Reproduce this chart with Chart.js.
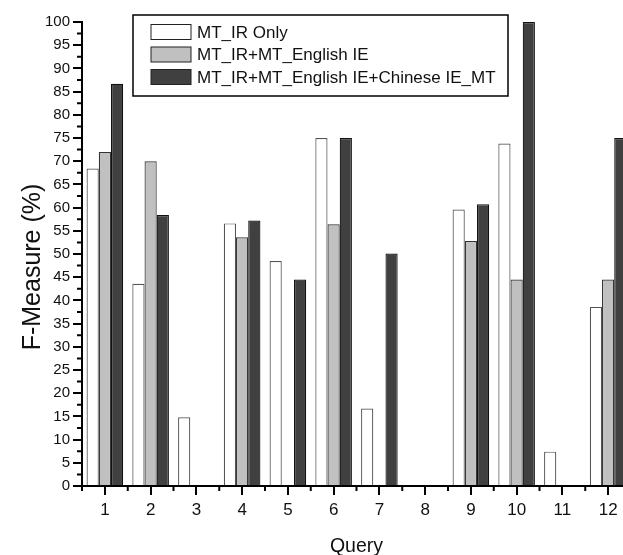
<!DOCTYPE html>
<html>
<head>
<meta charset="utf-8">
<script src="https://cdn.jsdelivr.net/npm/chart.js@4.4.1/dist/chart.umd.min.js"></script>
<style>
  html, body { margin: 0; padding: 0; background: #fff; overflow: hidden; }
  #wrap { width: 631px; height: 555px; }
</style>
</head>
<body>
<div id="wrap"><canvas id="grafico" width="631" height="555"></canvas></div>
<script>
var queries = ["1", "2", "3", "4", "5", "6", "7", "8", "9", "10", "11", "12"];
var serieNomes = ["MT_IR Only", "MT_IR+MT_English IE", "MT_IR+MT_English IE+Chinese IE_MT"];
var mtIrOnly = [68.4, 43.6, 14.8, 56.6, 48.5, 75.0, 16.7, 0, 59.6, 73.8, 7.4, 38.6];
var mtIrEnglish = [72.0, 70.0, 0, 53.6, 0, 56.4, 0, 0, 52.8, 44.5, 0, 44.5];
var mtIrEnglishChinese = [86.7, 58.4, 0, 57.2, 44.5, 75.0, 50.1, 0, 60.7, 100, 0, 75.0];
var tituloX = "Query";
var tituloY = "F-Measure (%)";
var fonte = "'Liberation Sans', Arial, sans-serif";

// ticks menores, titulos dos eixos e legenda em caixa
var extras = {
  id: 'extras',
  afterDraw: function (chart) {
    var ctx = chart.ctx;
    var x = chart.scales.x;
    var y = chart.scales.y;
    var base = y.getPixelForValue(0);
    ctx.save();
    ctx.strokeStyle = '#000';
    ctx.lineWidth = 2;
    ctx.beginPath();
    for (var i = 0; i <= queries.length; i++) {
      var px = x.getPixelForValue(i - 0.5);
      ctx.moveTo(px, base);
      ctx.lineTo(px, base + 5);
    }
    for (var v = 2.5; v < 100; v += 5) {
      var py = y.getPixelForValue(v);
      ctx.moveTo(x.left, py);
      ctx.lineTo(x.left - 5, py);
    }
    ctx.stroke();

    // titulos
    ctx.fillStyle = '#111';
    ctx.textAlign = 'center';
    ctx.textBaseline = 'alphabetic';
    ctx.font = "19.5px " + fonte;
    ctx.fillText(tituloX, (chart.chartArea.left + chart.chartArea.right) / 2, 552);
    ctx.save();
    ctx.translate(40, 267);
    ctx.rotate(-Math.PI / 2);
    ctx.font = "25px " + fonte;
    ctx.fillText(tituloY, 0, 0);
    ctx.restore();

    // legenda
    var lx = 133, ly = 15, lw = 375, lh = 81;
    ctx.lineWidth = 1.5;
    ctx.strokeStyle = '#000';
    ctx.fillStyle = '#fff';
    ctx.fillRect(lx, ly, lw, lh);
    ctx.strokeRect(lx, ly, lw, lh);
    ctx.font = "17px " + fonte;
    ctx.textAlign = 'left';
    ctx.textBaseline = 'middle';
    chart.data.datasets.forEach(function (ds, k) {
      var cy = 32 + k * 22.5;
      ctx.fillStyle = ds.backgroundColor;
      ctx.fillRect(151, cy - 7.5, 40, 15);
      ctx.strokeStyle = '#222';
      ctx.lineWidth = 1;
      ctx.strokeRect(151, cy - 7.5, 40, 15);
      ctx.fillStyle = '#111';
      ctx.fillText(ds.label, 197, cy + 1);
    });
    ctx.restore();
  }
};

var ctx = document.getElementById('grafico').getContext('2d');
var meuGrafico = new Chart(ctx, {
  type: 'bar',
  data: {
    labels: queries,
    datasets: [{
      label: serieNomes[0],
      data: mtIrOnly,
      backgroundColor: '#ffffff',
      borderColor: '#555',
      borderWidth: 1.2
    }, {
      label: serieNomes[1],
      data: mtIrEnglish,
      backgroundColor: '#c0c0c0',
      borderColor: '#333',
      borderWidth: 1.2
    }, {
      label: serieNomes[2],
      data: mtIrEnglishChinese,
      backgroundColor: '#404040',
      borderColor: '#111',
      borderWidth: 1.2
    }]
  },
  options: {
    responsive: false,
    animation: false,
    layout: { padding: { top: 22, left: 0, right: 0, bottom: 0 } },
    datasets: { bar: { categoryPercentage: 0.8, barPercentage: 1.0 } },
    plugins: {
      legend: { display: false },
      tooltip: { enabled: false }
    },
    scales: {
      x: {
        offset: true,
        grid: { display: true, drawOnChartArea: false, drawTicks: true, offset: false, tickLength: 9, color: '#000', lineWidth: 2 },
        border: { display: true, color: '#000', width: 2 },
        ticks: { color: '#111', font: { family: fonte, size: 17 }, padding: 5, maxRotation: 0 },
        afterFit: function (scale) { scale.height = 69; }
      },
      y: {
        min: 0,
        max: 100,
        grid: { display: true, drawOnChartArea: false, drawTicks: true, tickLength: 9, color: '#000', lineWidth: 2 },
        border: { display: true, color: '#000', width: 2 },
        ticks: { stepSize: 5, color: '#111', font: { family: fonte, size: 15 }, padding: 3, autoSkip: false },
        afterFit: function (scale) { scale.width = 82; }
      }
    }
  },
  plugins: [extras]
});
</script>
</body>
</html>
